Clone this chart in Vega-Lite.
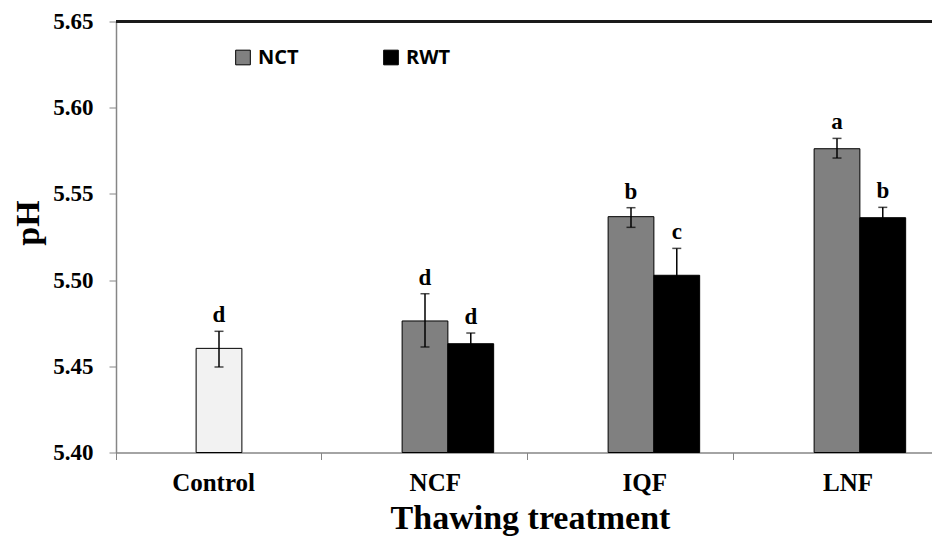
{
  "$schema": "https://vega.github.io/schema/vega-lite/v6.json",
  "width": 816,
  "height": 431,
  "autosize": "none",
  "padding": {"left": 116, "top": 21.5, "right": 0, "bottom": 84.5},
  "background": "white",
  "config": {"view": {"stroke": null}, "font": "Liberation Serif"},
  "data": {
    "values": [
      {"treatment": "Control", "method": "Control", "pH": 5.4604, "low": 5.4496, "high": 5.4703, "letter": "d"},
      {"treatment": "NCF", "method": "NCT", "pH": 5.4763, "low": 5.4612, "high": 5.4921, "letter": "d"},
      {"treatment": "NCF", "method": "RWT", "pH": 5.4631, "low": 5.4569, "high": 5.4693, "letter": "d"},
      {"treatment": "IQF", "method": "NCT", "pH": 5.5368, "low": 5.5306, "high": 5.542, "letter": "b"},
      {"treatment": "IQF", "method": "RWT", "pH": 5.5028, "low": 5.4872, "high": 5.5184, "letter": "c"},
      {"treatment": "LNF", "method": "NCT", "pH": 5.5762, "low": 5.5708, "high": 5.5822, "letter": "a"},
      {"treatment": "LNF", "method": "RWT", "pH": 5.5362, "low": 5.5302, "high": 5.5422, "letter": "b"}
    ]
  },
  "layer": [
    {
      "mark": {"type": "rule", "color": "#1a1a1a", "strokeWidth": 2},
      "encoding": {"y": {"datum": 5.65, "type": "quantitative", "scale": {"domain": [5.4, 5.65], "zero": false, "nice": false}}}
    },
    {
      "transform": [{"filter": "datum.method === 'Control'"}],
      "encoding": {
        "x": {"field": "treatment", "type": "nominal"},
        "xOffset": {"datum": "NCT"}
      },
      "layer": [
        {
          "mark": {"type": "bar", "stroke": "#000", "strokeWidth": 1},
          "encoding": {
            "y": {"field": "pH", "type": "quantitative", "scale": {"domain": [5.4, 5.65], "zero": false, "nice": false}},
            "y2": {"datum": 5.4},
            "color": {"field": "method", "type": "nominal"}
          }
        },
        {
          "mark": {"type": "rule", "color": "#000", "strokeWidth": 1.5},
          "encoding": {"y": {"field": "low", "type": "quantitative"}, "y2": {"field": "high"}}
        },
        {
          "mark": {"type": "tick", "color": "#000", "size": 9, "thickness": 1.5},
          "encoding": {"y": {"field": "low", "type": "quantitative"}}
        },
        {
          "mark": {"type": "tick", "color": "#000", "size": 9, "thickness": 1.5},
          "encoding": {"y": {"field": "high", "type": "quantitative"}}
        },
        {
          "mark": {"type": "text", "font": "Liberation Serif", "fontWeight": "bold", "fontSize": 23, "baseline": "alphabetic", "dy": -9, "color": "#000"},
          "encoding": {"y": {"field": "high", "type": "quantitative"}, "text": {"field": "letter"}}
        }
      ]
    },
    {
      "transform": [{"filter": "datum.method !== 'Control'"}],
      "encoding": {
        "x": {
          "field": "treatment",
          "type": "nominal",
          "sort": ["Control", "NCF", "IQF", "LNF"],
          "scale": {"domain": ["Control", "NCF", "IQF", "LNF"], "range": [0, 824], "paddingInner": 0.33333, "paddingOuter": 0.16667},
          "axis": {
            "title": "Thawing treatment",
            "titleFont": "Liberation Serif",
            "titleFontWeight": "bold",
            "titleFontSize": 34,
            "titleColor": "black",
            "titleX": 414,
            "titleY": 76,
            "titleBaseline": "alphabetic",
            "titleAlign": "center",
            "titleLimit": 2000,
            "labelAngle": 0,
            "bandPosition": -0.25,
            "labelOffset": 36,
            "labelFont": "Liberation Serif",
            "labelFontWeight": "bold",
            "labelFontSize": 25,
            "labelColor": "black",
            "labelPadding": 23,
            "domainColor": "#868686",
            "domainWidth": 1.5,
            "tickColor": "#868686",
            "tickSize": 7,
            "tickWidth": 1
          }
        },
        "xOffset": {"field": "method", "type": "nominal", "scale": {"domain": ["Empty", "NCT", "RWT"], "paddingInner": 0, "paddingOuter": 0}}
      },
      "layer": [
        {
          "mark": {"type": "bar", "stroke": "#000", "strokeWidth": 1},
          "encoding": {
            "y": {
              "field": "pH",
              "type": "quantitative",
              "scale": {"domain": [5.4, 5.65], "zero": false, "nice": false},
              "axis": {
                "values": [5.4, 5.45, 5.5, 5.55, 5.6, 5.65],
                "format": ".2f",
                "grid": false,
                "title": "pH",
                "titleFont": "Liberation Serif",
                "titleFontWeight": "bold",
                "titleFontSize": 34,
                "titleColor": "black",
                "titleX": -88,
                "titleY": 201,
                "titleAlign": "center",
                "titleBaseline": "middle",
                "labelFont": "Liberation Serif",
                "labelFontWeight": "bold",
                "labelFontSize": 23,
                "labelColor": "black",
                "labelPadding": 16,
                "domainColor": "#868686",
                "domainWidth": 1.5,
                "tickColor": "#868686",
                "tickSize": 7
              }
            },
            "y2": {"datum": 5.4},
            "color": {
              "field": "method",
              "type": "nominal",
              "scale": {"domain": ["Control", "NCT", "RWT"], "range": ["#F2F2F2", "#808080", "#000000"]},
              "legend": {
                "values": ["NCT", "RWT"],
                "orient": "none",
                "direction": "horizontal",
                "legendX": 117,
                "legendY": 26,
                "title": null,
                "symbolType": "square",
                "symbolSize": 215,
                "symbolStrokeColor": "#333",
                "symbolStrokeWidth": 1,
                "labelFont": "Open Sans",
                "labelFontWeight": "bold",
                "labelFontSize": 20,
                "labelColor": "black",
                "labelOffset": 5,
                "columnPadding": 82
              }
            }
          }
        },
        {
          "mark": {"type": "rule", "color": "#000", "strokeWidth": 1.5},
          "encoding": {"y": {"field": "low", "type": "quantitative"}, "y2": {"field": "high"}}
        },
        {
          "mark": {"type": "tick", "color": "#000", "size": 9, "thickness": 1.5},
          "encoding": {"y": {"field": "low", "type": "quantitative"}}
        },
        {
          "mark": {"type": "tick", "color": "#000", "size": 9, "thickness": 1.5},
          "encoding": {"y": {"field": "high", "type": "quantitative"}}
        },
        {
          "mark": {"type": "text", "font": "Liberation Serif", "fontWeight": "bold", "fontSize": 23, "baseline": "alphabetic", "dy": -9, "color": "#000"},
          "encoding": {"y": {"field": "high", "type": "quantitative"}, "text": {"field": "letter"}}
        }
      ]
    }
  ]
}
